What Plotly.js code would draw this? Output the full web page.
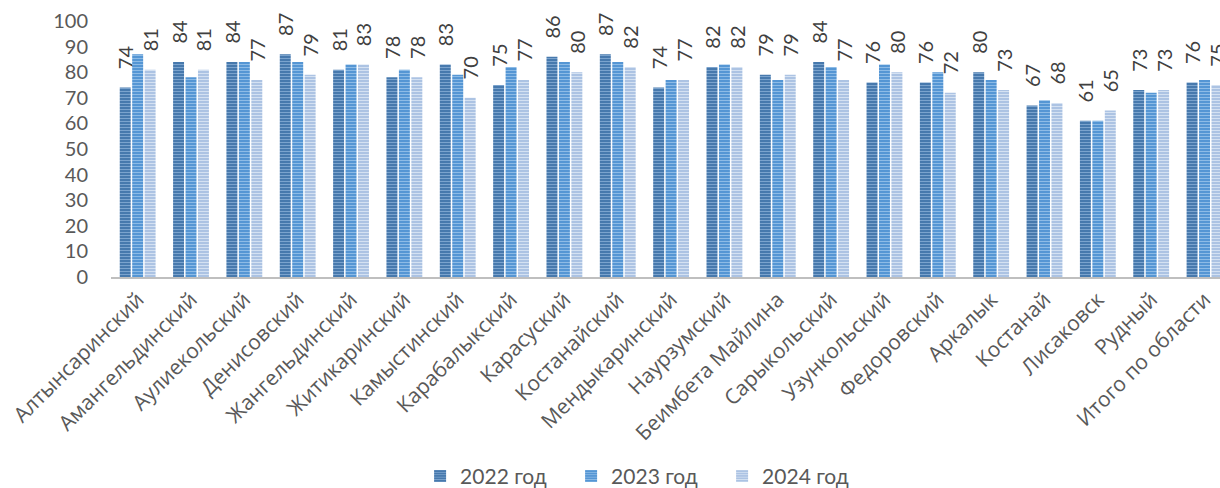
<!DOCTYPE html>
<html>
<head>
<meta charset="utf-8">
<script src="https://cdn.plot.ly/plotly-3.0.1.min.js"></script>
<style>html,body{margin:0;padding:0;background:#fff}#chart{width:1220px;height:488px}</style>
</head>
<body>
<div id="chart"></div>
<script>
const categories = ["Алтынсаринский","Амангельдинский","Аулиекольский","Денисовский","Жангельдинский","Житикаринский","Камыстинский","Карабалыкский","Карасуский","Костанайский","Мендыкаринский","Наурзумский","Беимбета Майлина","Сарыкольский","Узункольский","Федоровский","Аркалык","Костанай","Лисаковск","Рудный","Итого по области"];
const seriesNames = ["2022 год","2023 год","2024 год"];
const v2022 = [74,84,84,87,81,78,83,75,86,87,74,82,79,84,76,76,80,67,61,73,76];
const v2023 = [87,78,84,84,83,81,79,82,84,84,77,83,77,82,83,80,77,69,61,72,77];
const v2024 = [81,81,77,79,83,78,70,77,80,82,77,82,79,77,80,72,73,68,65,73,75];
const yTicks = [0,10,20,30,40,50,60,70,80,90,100];

const pad = '\u00a0\u00a0\u00a0';
function barTrace(name, vals, bg, fg, showText){
  const t = {
    type:'bar', name:name, x:categories, y:vals,
    marker:{color:bg, line:{width:0}, pattern:{shape:'-', size:3, solidity:0.35, bgcolor:bg, fgcolor:fg, fillmode:'replace'}},
    cliponaxis:false, hoverinfo:'skip'
  };
  if(showText){
    t.text = vals.map(v=>pad+v);
    t.textposition='outside';
    t.textangle=-90;
    t.constraintext='none';
    t.textfont={family:'Lato, sans-serif', size:20, color:'#404040'};
  }
  return t;
}
const data = [
  barTrace(seriesNames[0], v2022, '#4779ad', '#7ba3cd', true),
  barTrace(seriesNames[1], v2023, '#5596d4', '#8dbbe6', false),
  barTrace(seriesNames[2], v2024, '#acc3e3', '#d4e1f2', true)
];
const layout = {
  width:1220, height:488,
  margin:{l:111, r:0, t:21, b:211},
  paper_bgcolor:'#fff', plot_bgcolor:'#fff',
  barmode:'group', bargap:0.3, bargroupgap:0.12,
  showlegend:true,
  legend:{orientation:'h', xref:'container', yref:'container', x:0.53, xanchor:'center', y:0.024, yanchor:'middle',
    font:{family:'Lato, sans-serif', size:21, color:'#595959'}, entrywidth:106, entrywidthmode:'pixels', itemwidth:30},
  xaxis:{range:[-0.5,20.29], tickangle:-45, showline:true, linecolor:'#bfbfbf', linewidth:2,
    ticks:'', showgrid:false, zeroline:false, automargin:false,
    tickfont:{family:'Open Sans, sans-serif', size:21, color:'#595959'}},
  yaxis:{range:[0,100], tickvals:yTicks, ticktext:yTicks.map(String), showgrid:false, zeroline:false, showline:false,
    ticks:'', ticklabelstandoff:22, automargin:false,
    tickfont:{family:'Lato, sans-serif', size:20, color:'#595959'}}
};
Plotly.newPlot('chart', data, layout, {displayModeBar:false, staticPlot:true});
</script>
</body>
</html>
